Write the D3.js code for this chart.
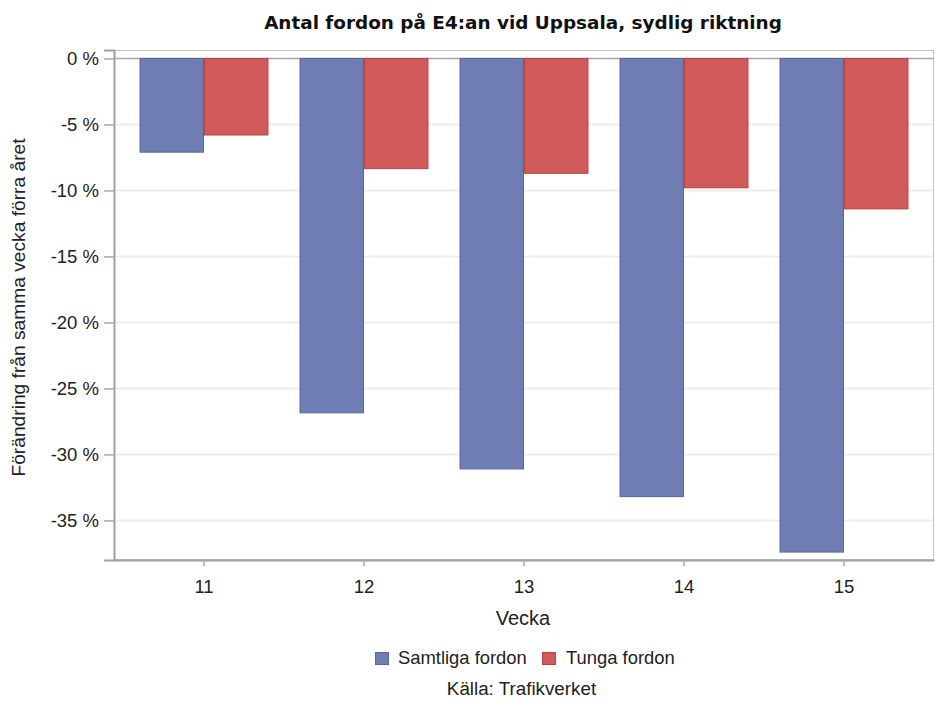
<!DOCTYPE html>
<html><head><meta charset="utf-8">
<script src="https://cdn.jsdelivr.net/npm/d3@7/dist/d3.min.js"></script>
<style>
body{margin:0;background:#fff;}
text{font-family:"Liberation Sans",Arial,sans-serif;}
</style></head>
<body><svg id="c" width="936" height="713"></svg>
<script>
const weeks = ["11","12","13","14","15"];
const seriesNames = ["Samtliga fordon","Tunga fordon"];
const samtliga = [-7.1, -26.85, -31.1, -33.2, -37.4];
const tunga = [-5.8, -8.35, -8.7, -9.8, -11.4];
const yTicks = [0,-5,-10,-15,-20,-25,-30,-35];
const colors = ["#6E7EB2","#D05A5A"];
const strokes = ["#5565A3","#B84444"];

const svg = d3.select("#c");
const L=114,R=934,T=50,B=560;
const x = d3.scaleBand().domain(weeks).range([L,R]).paddingInner(0).paddingOuter(0.0625);
const x1 = d3.scaleBand().domain(seriesNames).range([0, x.bandwidth()*0.806]);
const y = d3.scaleLinear().domain([-38.0, 0.64]).range([B,T]);

// grid
svg.append("g").selectAll("line").data(yTicks.filter(d=>d!==0)).join("line")
  .attr("x1",L).attr("x2",R).attr("y1",d=>y(d)).attr("y2",d=>y(d))
  .attr("stroke","#EDEDED").attr("stroke-width",2);

// frame
svg.append("rect").attr("x",L+0.5).attr("y",T+0.5).attr("width",R-L-1).attr("height",B-T-1)
  .attr("fill","none").attr("stroke","#C4C4C4");

// zero reference line
svg.append("line").attr("x1",L).attr("x2",R).attr("y1",y(0)).attr("y2",y(0))
  .attr("stroke","#A8A8A8").attr("stroke-width",1.5);

// bars
const data = weeks.map((w,i)=>({w, vals:[samtliga[i],tunga[i]]}));
const g = svg.append("g").selectAll("g").data(data).join("g")
  .attr("transform",d=>`translate(${x(d.w)+x.bandwidth()/2 - x1.range()[1]/2},0)`);
g.selectAll("rect").data(d=>d.vals.map((v,j)=>({v,j}))).join("rect")
  .attr("x",d=>x1(seriesNames[d.j])+0.5)
  .attr("width",x1.bandwidth()-1)
  .attr("y",y(0))
  .attr("height",d=>y(d.v)-y(0))
  .attr("fill",d=>colors[d.j]).attr("stroke",d=>strokes[d.j]).attr("stroke-width",1);

// y axis
const ya = svg.append("g").attr("transform",`translate(${L},0)`)
  .call(d3.axisLeft(y).tickValues(yTicks).tickSize(10).tickPadding(5).tickFormat(d=>d+" %"));
ya.select(".domain").attr("stroke","#A0A0A0").attr("stroke-width",2);
ya.selectAll(".tick line").attr("stroke","#A8A8A8").attr("stroke-width",1.5);
ya.selectAll("text").attr("font-size",18.5).attr("fill","#222").attr("font-family","Liberation Sans, Arial, sans-serif");

// x axis
const xa = svg.append("g").attr("transform",`translate(0,${B})`)
  .call(d3.axisBottom(x).tickSize(6).tickPadding(14).tickSizeOuter(0));
xa.select(".domain").attr("stroke","#A0A0A0").attr("stroke-width",2);
xa.selectAll(".tick line").attr("stroke","#A8A8A8").attr("stroke-width",1.5);
xa.selectAll("text").attr("font-size",18.5).attr("fill","#222").attr("font-family","Liberation Sans, Arial, sans-serif");

// titles
svg.append("text").attr("x",523).attr("y",28.5).attr("text-anchor","middle")
  .attr("font-size",18.4).attr("font-weight","bold").attr("fill","#111")
  .style("font-family","DejaVu Sans, sans-serif").text("Antal fordon på E4:an vid Uppsala, sydlig riktning");
svg.append("text").attr("x",523).attr("y",625).attr("text-anchor","middle")
  .attr("font-size",20).attr("fill","#222").text("Vecka");
svg.append("text").attr("transform","translate(25,307.5) rotate(-90)").attr("text-anchor","middle")
  .attr("font-size",19.2).attr("fill","#222").text("Förändring från samma vecka förra året");

// legend
const leg = svg.append("g");
const legX = [375.5, 542.5];
const legTX = [398, 566];
seriesNames.forEach((s,i)=>{
  leg.append("rect").attr("x",legX[i]).attr("y",652.5).attr("width",13).attr("height",12)
    .attr("fill",colors[i]).attr("stroke",strokes[i]);
  leg.append("text").attr("x",legTX[i]).attr("y",664).attr("font-size",18.4).attr("fill","#222").text(s);
});
svg.append("text").attr("x",521.5).attr("y",695).attr("text-anchor","middle")
  .attr("font-size",18.8).attr("fill","#222").text("Källa: Trafikverket");
</script></body></html>
